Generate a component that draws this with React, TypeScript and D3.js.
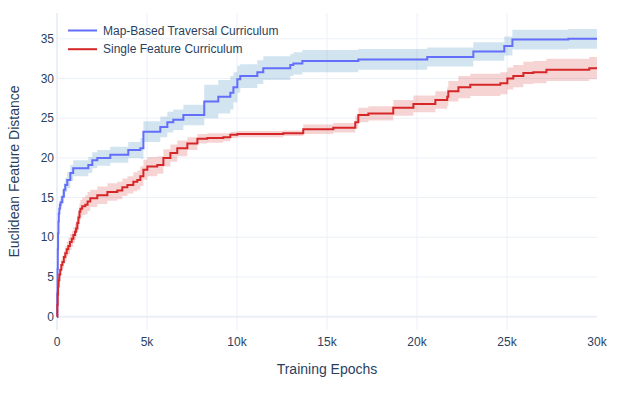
import React from "react";
import * as d3 from "d3";

// step points (epochs, mean, half band width)
const blueEpochs = [0, 15, 30, 45, 60, 80, 100, 130, 160, 200, 290, 380, 460, 570, 740, 900, 1740, 1960, 2240, 2960, 3960, 4630, 4800, 5740, 6130, 6460, 7020, 8180, 8960, 9630, 9800, 10020, 10180, 11130, 11460, 12960, 13130, 13630, 16740, 20570, 23130, 24850, 25300, 28410, 30000];
const blueMean = [0, 3.0, 6.0, 8.5, 10.5, 12.0, 13.0, 13.6, 14.1, 14.4, 15.1, 16.0, 16.6, 17.2, 18.1, 18.7, 19.1, 19.7, 20.0, 20.4, 21.0, 21.2, 23.3, 23.9, 24.5, 24.8, 25.4, 27.1, 27.7, 28.2, 28.9, 29.9, 30.3, 30.8, 31.3, 31.7, 31.9, 32.2, 32.4, 32.7, 33.4, 34.1, 34.9, 35.0, 35.0];
const blueStd = [0, 0.2, 0.3, 0.4, 0.5, 0.6, 0.6, 0.7, 0.7, 0.8, 0.8, 0.9, 0.9, 1.0, 1.0, 1.0, 1.0, 1.0, 1.0, 1.0, 1.0, 1.3, 1.3, 1.3, 1.3, 1.3, 1.3, 2.1, 2.1, 2.1, 1.9, 1.7, 1.5, 1.5, 1.5, 1.4, 1.4, 1.4, 1.3, 1.2, 1.15, 1.2, 1.25, 1.25, 1.25];

const redEpochs = [0, 20, 40, 60, 90, 130, 180, 240, 300, 380, 460, 540, 630, 720, 820, 910, 1000, 1060, 1130, 1190, 1250, 1300, 1400, 1570, 1700, 1850, 2240, 2800, 3350, 3630, 3910, 4240, 4460, 4630, 4800, 5020, 5570, 5910, 6300, 6680, 7240, 7800, 8350, 9240, 9630, 10020, 12570, 13680, 15350, 16570, 16740, 17300, 18680, 19800, 21020, 21680, 21740, 22300, 22960, 24630, 25020, 25350, 25910, 26460, 27190, 29570, 30000];
const redMean = [0, 1.5, 2.8, 3.8, 4.6, 5.3, 5.9, 6.5, 6.9, 7.5, 8.0, 8.5, 8.9, 9.4, 9.8, 10.3, 10.7, 11.1, 11.8, 12.5, 13.2, 13.6, 13.9, 14.1, 14.5, 14.9, 15.3, 15.7, 15.9, 16.3, 16.6, 17.0, 17.2, 17.7, 18.5, 18.9, 19.1, 20.0, 20.6, 21.2, 21.8, 22.4, 22.5, 22.6, 22.9, 23.0, 23.1, 23.6, 23.8, 24.5, 25.4, 25.6, 26.3, 26.8, 27.3, 27.7, 28.4, 28.9, 29.2, 29.4, 30.0, 30.3, 30.7, 30.8, 31.1, 31.3, 31.3];
const redStd = [0, 0.2, 0.3, 0.4, 0.5, 0.6, 0.7, 0.7, 0.8, 0.8, 0.9, 0.9, 1.0, 1.0, 1.0, 1.0, 1.0, 1.0, 1.1, 1.1, 1.1, 1.1, 1.1, 1.2, 1.2, 1.1, 1.1, 1.1, 1.1, 1.1, 1.1, 1.2, 1.2, 1.25, 1.25, 1.2, 1.1, 1.1, 1.1, 1.0, 0.8, 0.6, 0.6, 0.5, 0.4, 0.4, 0.35, 0.6, 0.6, 0.8, 0.9, 0.9, 1.0, 1.05, 1.1, 1.2, 1.3, 1.4, 1.4, 1.4, 1.4, 1.4, 1.4, 1.4, 1.4, 1.4, 1.4];

const xTicks = [0, 5000, 10000, 15000, 20000, 25000, 30000];
const xTickLabels = ["0", "5k", "10k", "15k", "20k", "25k", "30k"];
const yTicks = [0, 5, 10, 15, 20, 25, 30, 35];

const seriesNames = ["Map-Based Traversal Curriculum", "Single Feature Curriculum"];

const width = 618;
const height = 396;
const plot = { left: 57, right: 597, top: 13, bottom: 330 };
const font = "'Liberation Sans', Arial, sans-serif";
const textColor = "#2a3f5f";
const gridColor = "#EBF0F8";

type Pt = { x: number; m: number; s: number };

const zipSeries = (xs: number[], ms: number[], ss: number[]): Pt[] =>
  xs.map((x, i) => ({ x, m: ms[i], s: ss[i] }));

const series = [
  { name: seriesNames[0], data: zipSeries(blueEpochs, blueMean, blueStd), line: "#636efa", band: "rgba(31,119,180,0.2)" },
  { name: seriesNames[1], data: zipSeries(redEpochs, redMean, redStd), line: "#d62728", band: "rgba(214,39,40,0.2)" },
];

export default function App() {
  const x = d3.scaleLinear().domain([0, 30000]).range([plot.left, plot.right]);
  const y = d3.scaleLinear().domain([-1.68, 38.25]).range([plot.bottom, plot.top]);

  const line = d3
    .line<Pt>()
    .x((d) => x(d.x))
    .y((d) => y(d.m))
    .curve(d3.curveStepAfter);

  const area = d3
    .area<Pt>()
    .x((d) => x(d.x))
    .y0((d) => y(d.m - d.s))
    .y1((d) => y(d.m + d.s))
    .curve(d3.curveStepAfter);

  return (
    <div style={{ position: "absolute", left: 0, top: 0 }}>
      <svg width={width} height={height} style={{ display: "block", background: "#fff" }}>
        {/* grid */}
        <g>
          {yTicks.map((t) => (
            <line
              key={"gy" + t}
              x1={plot.left}
              x2={plot.right}
              y1={y(t)}
              y2={y(t)}
              stroke={gridColor}
              strokeWidth={t === 0 ? 2 : 1}
            />
          ))}
          {xTicks
            .filter((t) => t < 30000)
            .map((t) => (
              <line
                key={"gx" + t}
                x1={x(t)}
                x2={x(t)}
                y1={plot.top}
                y2={plot.bottom}
                stroke={gridColor}
                strokeWidth={t === 0 ? 2 : 1}
              />
            ))}
        </g>

        {/* series */}
        {series.map((s) => (
          <g key={s.name}>
            <path d={area(s.data) ?? ""} fill={s.band} stroke="none" />
            <path d={line(s.data) ?? ""} fill="none" stroke={s.line} strokeWidth={2} />
          </g>
        ))}

        {/* tick labels */}
        <g fontFamily={font} fontSize={12} fill={textColor}>
          {yTicks.map((t) => (
            <text key={"ly" + t} x={plot.left - 3} y={y(t)} dy="0.35em" textAnchor="end">
              {t}
            </text>
          ))}
          {xTicks.map((t, i) => (
            <text key={"lx" + t} x={x(t)} y={346} textAnchor="middle">
              {xTickLabels[i]}
            </text>
          ))}
        </g>

        {/* axis titles */}
        <text x={(plot.left + plot.right) / 2} y={374} textAnchor="middle" fontFamily={font} fontSize={14} fill={textColor}>
          Training Epochs
        </text>
        <text
          transform={`translate(19,${(plot.top + plot.bottom) / 2}) rotate(-90)`}
          textAnchor="middle"
          fontFamily={font}
          fontSize={14}
          fill={textColor}
        >
          Euclidean Feature Distance
        </text>

        {/* legend */}
        <g fontFamily={font} fontSize={12} fill={textColor}>
          {series.map((s, i) => (
            <g key={"lg" + i} transform={`translate(68,${30.5 + i * 18.7})`}>
              <line x1={0} x2={29} y1={0} y2={0} stroke={s.line} strokeWidth={2} />
              <text x={35} y={0} dy="0.35em">
                {s.name}
              </text>
            </g>
          ))}
        </g>
      </svg>
    </div>
  );
}
